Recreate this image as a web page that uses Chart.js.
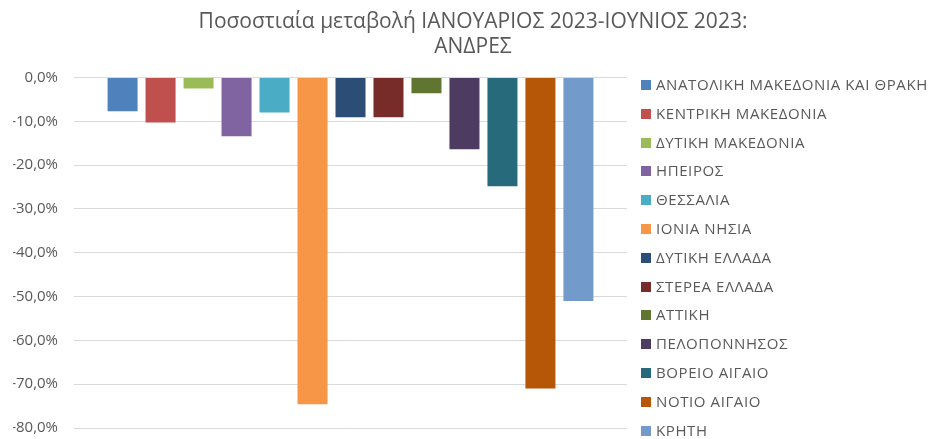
<!DOCTYPE html>
<html lang="el">
  <head>
    <meta charset="UTF-8" />
    <title>Ποσοστιαία μεταβολή ΑΝΔΡΕΣ</title>
    <script src="https://cdn.jsdelivr.net/npm/chart.js@4.4.0/dist/chart.umd.min.js"></script>
    <style>
      body { margin: 0; background: #fff; }
      #wrap { position: relative; width: 933px; height: 439px; overflow: hidden; }
      canvas { display: block; }
      #legend { position: absolute; left: 641px; top: 70px; margin: 0; padding: 0; list-style: none;
        font-family: "Open Sans", sans-serif; font-size: 15px; letter-spacing: 0.6px; color: #595959; }
      #legend li { height: 28.8px; line-height: 28.8px; white-space: nowrap; }
      #legend span { display: inline-block; width: 10px; height: 10px; margin-right: 5px; vertical-align: 0px; }
    </style>
  </head>
  <body>
    <div id="wrap">
      <canvas id="chart" width="933" height="439"></canvas>
      <ul id="legend"></ul>
    </div>
    <script>
      const regions = [
        "ΑΝΑΤΟΛΙΚΗ ΜΑΚΕΔΟΝΙΑ ΚΑΙ ΘΡΑΚΗ", "ΚΕΝΤΡΙΚΗ ΜΑΚΕΔΟΝΙΑ", "ΔΥΤΙΚΗ ΜΑΚΕΔΟΝΙΑ",
        "ΗΠΕΙΡΟΣ", "ΘΕΣΣΑΛΙΑ", "ΙΟΝΙΑ ΝΗΣΙΑ", "ΔΥΤΙΚΗ ΕΛΛΑΔΑ", "ΣΤΕΡΕΑ ΕΛΛΑΔΑ",
        "ΑΤΤΙΚΗ", "ΠΕΛΟΠΟΝΝΗΣΟΣ", "ΒΟΡΕΙΟ ΑΙΓΑΙΟ", "ΝΟΤΙΟ ΑΙΓΑΙΟ", "ΚΡΗΤΗ"
      ];
      // μεταβολή % (εκτίμηση από το γράφημα)
      const changes = [-7.7, -10.3, -2.5, -13.4, -8.0, -74.6, -9.1, -9.1, -3.6, -16.4, -24.8, -71.0, -51.0];
      const colors = [
        "#4F81BD", "#C0504D", "#9BBB59", "#8064A2", "#4BACC6", "#F79646", "#2C4D75",
        "#772C2A", "#5F7530", "#4D3B62", "#276A7C", "#B65708", "#729ACA"
      ];

      const datasets = regions.map((name, i) => ({
        label: name,
        data: [changes[i]],
        backgroundColor: colors[i],
        borderWidth: 0,
        categoryPercentage: 0.893,
        barPercentage: 0.79
      }));

      new Chart(document.getElementById("chart"), {
        type: "bar",
        data: { labels: [""], datasets: datasets },
        options: {
          responsive: false,
          animation: false,
          layout: { padding: { left: 13, right: 0, top: 0, bottom: 11 } },
          plugins: {
            legend: { display: false },
            tooltip: { enabled: false },
            title: {
              display: true,
              text: ["Ποσοστιαία μεταβολή ΙΑΝΟΥΑΡΙΟΣ 2023-ΙΟΥΝΙΟΣ 2023:", "ΑΝΔΡΕΣ"],
              color: "#595959",
              font: { family: "Open Sans", size: 21, weight: "normal", lineHeight: 1.19 },
              padding: { top: 10, bottom: 17.5 }
            }
          },
          scales: {
            x: { display: false },
            y: {
              min: -80,
              max: 0,
              ticks: {
                stepSize: 10,
                color: "#595959",
                padding: 16,
                font: { family: "Open Sans", size: 15 },
                callback: v => v.toFixed(1).replace(".", ",") + "%"
              },
              grid: { color: "#d9d9d9", drawTicks: false },
              border: { display: false },
              afterFit: s => { s.width = 61; s.paddingTop = 0; s.paddingBottom = 0; }
            },
            // κενό δεξιά για το υπόμνημα
            side: {
              position: "right",
              min: -80,
              max: 0,
              ticks: { display: false },
              grid: { display: false, drawTicks: false },
              border: { display: false },
              afterFit: s => { s.width = 306; s.paddingTop = 0; s.paddingBottom = 0; }
            }
          }
        }
      });

      const legend = document.getElementById("legend");
      regions.forEach((name, i) => {
        const li = document.createElement("li");
        li.innerHTML = '<span style="background:' + colors[i] + '"></span>' + name;
        legend.appendChild(li);
      });
    </script>
  </body>
</html>
